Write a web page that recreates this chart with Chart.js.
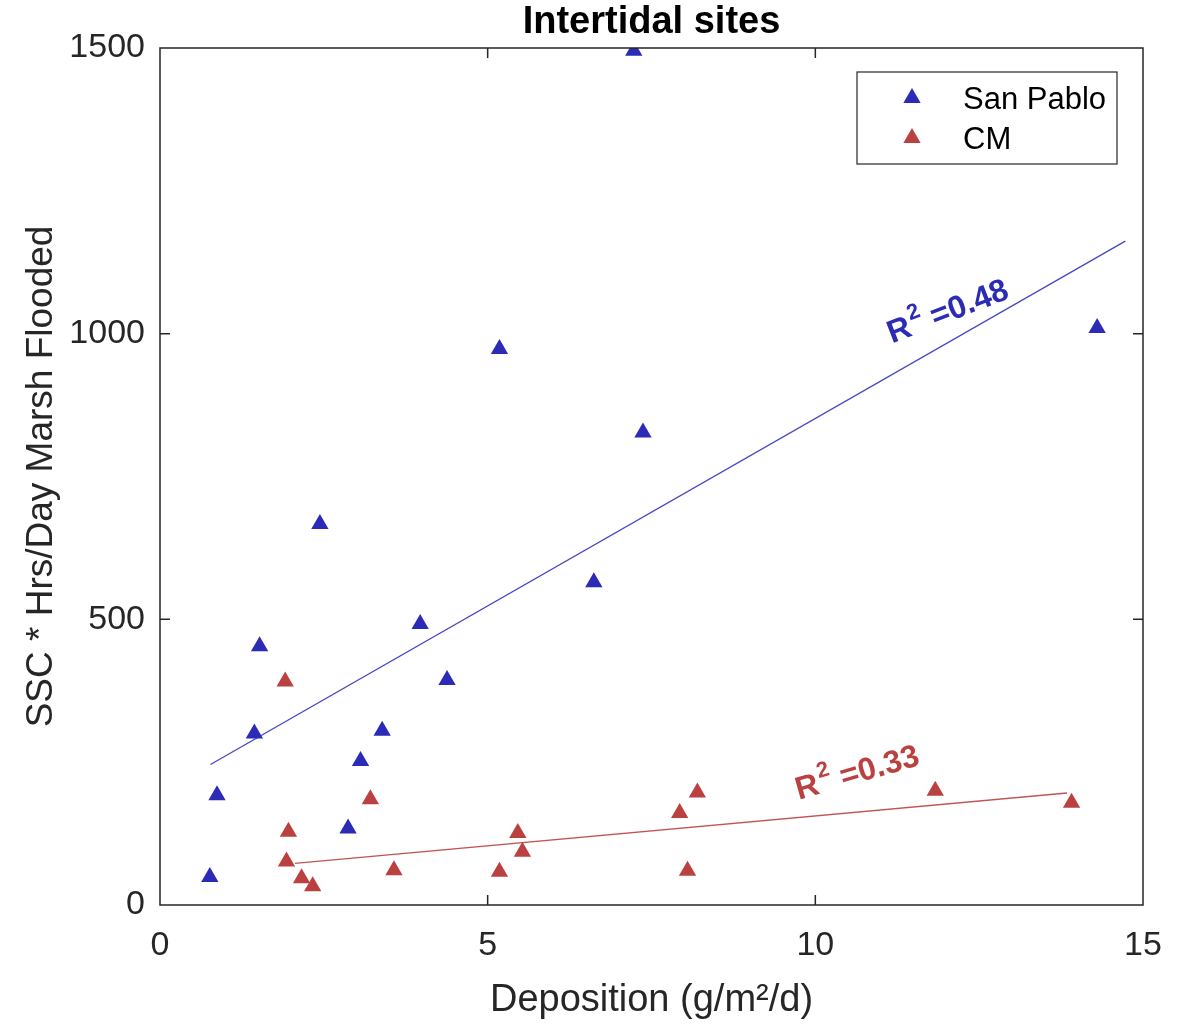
<!DOCTYPE html>
<html lang="en">
<head>
  <meta charset="UTF-8" />
  <title>Intertidal sites</title>
  <script src="https://cdn.jsdelivr.net/npm/chart.js"></script>
  <style>
    * { margin: 0; padding: 0; box-sizing: border-box; }
    body { background: #fff; width: 1189px; height: 1026px; overflow: hidden; }
    #wrap { width: 1189px; height: 1026px; position: relative; }
  </style>
</head>
<body>
  <div id="wrap"><canvas id="chart"></canvas></div>
  <script>
    // San Pablo points
    const spX = [0.76, 0.87, 1.44, 1.52, 2.44, 2.87, 3.06, 3.39, 3.97, 4.38, 5.18, 6.62, 7.23, 7.37, 14.3];
    const spY = [49, 192, 300, 453, 667, 134, 252, 305, 492, 394, 973, 565, 1495, 827, 1010];
    // CM points
    const cmX = [1.91, 1.96, 1.93, 2.16, 2.33, 3.21, 3.57, 5.18, 5.46, 5.53, 7.93, 8.2, 8.05, 11.83, 13.91];
    const cmY = [391, 128, 76, 47, 33, 185, 61, 58, 126, 93, 161, 197, 60, 200, 179];
    // fit lines (end points)
    const spFitX = [0.77, 14.73];
    const spFitY = [246, 1162];
    const cmFitX = [2.06, 13.84];
    const cmFitY = [73, 196];
    // R^2 labels
    const r2Text = ['=0.48', '=0.33'];
    const r2X = [12.0, 10.62];
    const r2Y = [1040, 233];
    const r2Angle = [-21, -16];

    const xTicks = [0, 5, 10, 15];
    const yTicks = [0, 500, 1000, 1500];

    const BLUE = '#2b2bb5';
    const RED = '#bb4141';
    const FONT = "'Liberation Sans', Arial, Helvetica, sans-serif";
    const INK = '#262626';

    const pts = (xs, ys) => xs.map((x, i) => ({ x: x, y: ys[i] }));

    // box + inward ticks, like a matlab axes
    const boxPlugin = {
      id: 'box',
      afterDatasetsDraw(chart) {
        const { ctx, chartArea: a, scales } = chart;
        ctx.save();
        ctx.strokeStyle = INK;
        ctx.lineWidth = 1.5;
        ctx.strokeRect(a.left, a.top, a.right - a.left, a.bottom - a.top);
        ctx.beginPath();
        xTicks.slice(1, -1).forEach(v => {
          const px = scales.x.getPixelForValue(v);
          ctx.moveTo(px, a.bottom); ctx.lineTo(px, a.bottom - 10);
          ctx.moveTo(px, a.top); ctx.lineTo(px, a.top + 10);
        });
        yTicks.slice(1, -1).forEach(v => {
          const py = scales.y.getPixelForValue(v);
          ctx.moveTo(a.left, py); ctx.lineTo(a.left + 10, py);
          ctx.moveTo(a.right, py); ctx.lineTo(a.right - 10, py);
        });
        ctx.stroke();
        // title centred over the axes
        ctx.fillStyle = '#000';
        ctx.font = 'bold 38px ' + FONT;
        ctx.textAlign = 'center';
        ctx.textBaseline = 'alphabetic';
        ctx.fillText('Intertidal sites', (a.left + a.right) / 2, 33);
        ctx.restore();
      }
    };

    function tri(ctx, x, y, r, color) {
      ctx.fillStyle = color;
      ctx.beginPath();
      ctx.moveTo(x, y - r);
      ctx.lineTo(x + r * 0.866, y + r / 2);
      ctx.lineTo(x - r * 0.866, y + r / 2);
      ctx.closePath();
      ctx.fill();
    }

    // legend box in the top right corner
    const legendPlugin = {
      id: 'boxLegend',
      afterDatasetsDraw(chart) {
        const { ctx, chartArea: a } = chart;
        const w = 260, h = 92;
        const left = a.right - 26 - w, top = a.top + 24;
        ctx.save();
        ctx.fillStyle = '#fff';
        ctx.fillRect(left, top, w, h);
        ctx.strokeStyle = INK;
        ctx.lineWidth = 1.2;
        ctx.strokeRect(left, top, w, h);
        const items = [['San Pablo', BLUE], ['CM', RED]];
        ctx.font = '31px ' + FONT;
        ctx.textBaseline = 'middle';
        items.forEach((it, i) => {
          const cy = top + 26 + i * 40;
          tri(ctx, left + 55, cy, 10, it[1]);
          ctx.fillStyle = '#000';
          ctx.fillText(it[0], left + 106, cy + 2);
        });
        ctx.restore();
      }
    };

    // rotated R^2 annotations
    const r2Plugin = {
      id: 'r2',
      afterDatasetsDraw(chart) {
        const { ctx, scales } = chart;
        const colors = [BLUE, RED];
        r2Text.forEach((t, i) => {
          const px = scales.x.getPixelForValue(r2X[i]);
          const py = scales.y.getPixelForValue(r2Y[i]);
          ctx.save();
          ctx.translate(px, py);
          ctx.rotate(r2Angle[i] * Math.PI / 180);
          ctx.fillStyle = colors[i];
          ctx.textBaseline = 'alphabetic';
          const big = 'bold 32px ' + FONT, small = 'bold 22px ' + FONT;
          ctx.font = big; const wR = ctx.measureText('R').width;
          ctx.font = small; const w2 = ctx.measureText('2').width;
          ctx.font = big; const wT = ctx.measureText(' ' + t).width;
          let x = -(wR + w2 + wT) / 2;
          const base = 11;
          ctx.font = big; ctx.fillText('R', x, base); x += wR;
          ctx.font = small; ctx.fillText('2', x + 2, base - 15); x += w2 + 2;
          ctx.font = big; ctx.fillText(' ' + t, x, base);
          ctx.restore();
        });
      }
    };

    const ctx = document.getElementById('chart').getContext('2d');
    new Chart(ctx, {
      type: 'scatter',
      data: {
        datasets: [
          { label: 'San Pablo', data: pts(spX, spY), pointStyle: 'triangle', pointRadius: 10,
            backgroundColor: BLUE, borderColor: BLUE, borderWidth: 0 },
          { label: 'CM', data: pts(cmX, cmY), pointStyle: 'triangle', pointRadius: 10,
            backgroundColor: RED, borderColor: RED, borderWidth: 0 },
          { label: 'sp fit', data: pts(spFitX, spFitY), showLine: true, pointRadius: 0,
            borderColor: '#4646c4', borderWidth: 1.3, order: 5 },
          { label: 'cm fit', data: pts(cmFitX, cmFitY), showLine: true, pointRadius: 0,
            borderColor: '#c25454', borderWidth: 1.3, order: 5 }
        ]
      },
      options: {
        responsive: true,
        maintainAspectRatio: false,
        animation: false,
        layout: { padding: { left: 0, top: 48, right: 46, bottom: 0 } },
        plugins: {
          legend: { display: false },
          tooltip: { enabled: false },
          title: { display: false }
        },
        scales: {
          x: {
            type: 'linear', min: 0, max: 15,
            afterBuildTicks: s => { s.ticks = xTicks.map(v => ({ value: v })); },
            afterFit: s => { s.height = 121; },
            grid: { display: false },
            border: { display: false },
            ticks: { color: INK, padding: 12, font: { family: FONT, size: 34 }, callback: v => String(v) },
            title: {
              display: true, text: 'Deposition (g/m²/d)', color: INK,
              font: { family: FONT, size: 38 }, padding: { top: 0, bottom: 3 }
            }
          },
          y: {
            type: 'linear', min: 0, max: 1500,
            afterBuildTicks: s => { s.ticks = yTicks.map(v => ({ value: v })); },
            afterFit: s => { s.width = 160; },
            grid: { display: false },
            border: { display: false },
            ticks: { color: INK, padding: 7, font: { family: FONT, size: 34 }, callback: v => String(v) },
            title: {
              display: true, text: 'SSC * Hrs/Day Marsh Flooded', color: INK,
              font: { family: FONT, size: 37 }, padding: { top: 20, bottom: 0 }
            }
          }
        }
      },
      plugins: [boxPlugin, legendPlugin, r2Plugin]
    });
  </script>
</body>
</html>
